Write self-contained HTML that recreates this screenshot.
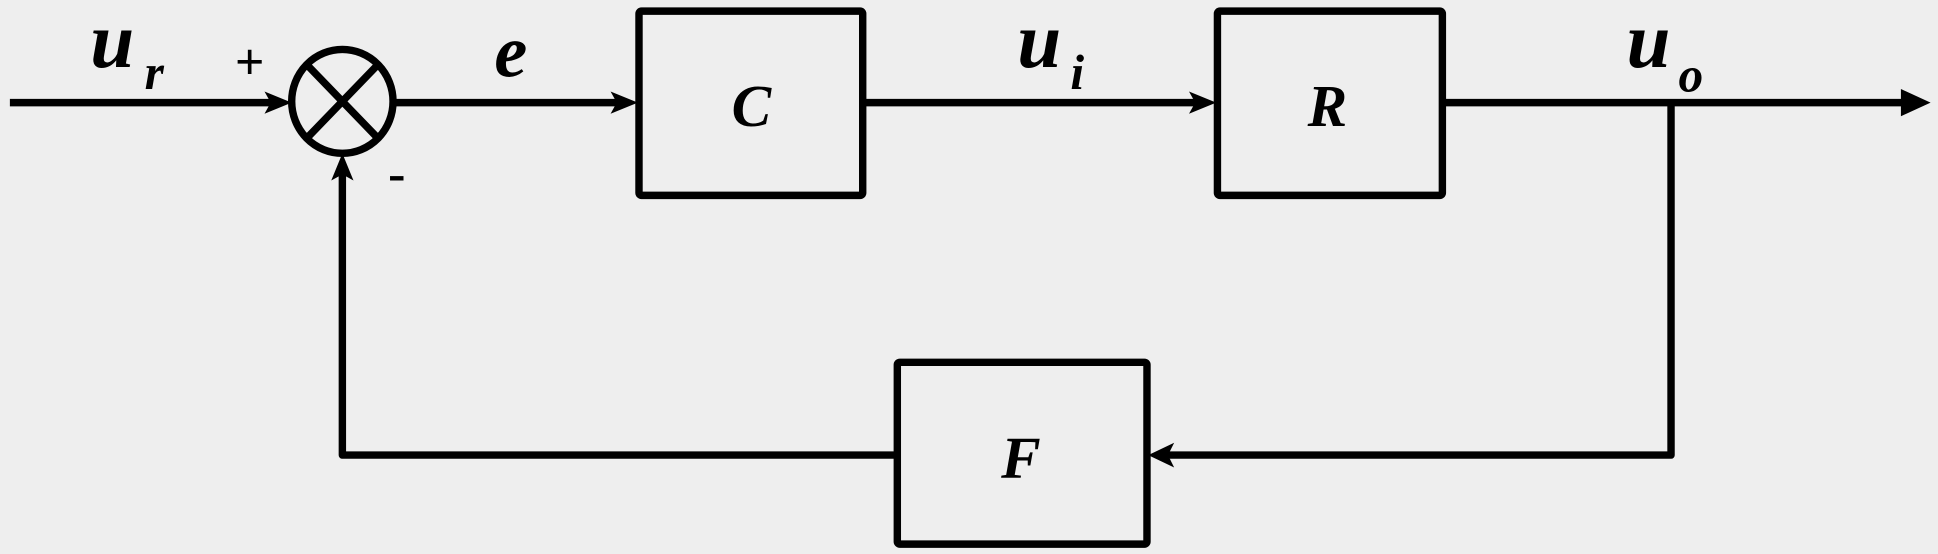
<!DOCTYPE html>
<html><head><meta charset="utf-8"><style>
html,body{margin:0;padding:0;background:#eeeeee;}
svg{display:block}
text{font-family:"Liberation Serif","DejaVu Serif",serif;font-weight:bold;font-style:italic;fill:#000}
</style></head><body>
<svg width="1938" height="554" viewBox="0 0 1568 448" preserveAspectRatio="none">
<rect x="0" y="0" width="1568" height="448" fill="#eeeeee"/>
<g stroke="#000" stroke-width="6" fill="none" stroke-linejoin="round">
<line x1="8" y1="83" x2="222" y2="83"/>
<ellipse cx="277" cy="82" rx="41" ry="42"/>
<line x1="248" y1="52" x2="306" y2="112"/>
<line x1="306" y1="52" x2="248" y2="112"/>
<line x1="318" y1="83" x2="502" y2="83"/>
<rect x="517" y="9" width="181" height="149" rx="2"/>
<line x1="698" y1="83" x2="970" y2="83"/>
<rect x="985" y="9" width="182" height="149" rx="2"/>
<line x1="1167" y1="83" x2="1545" y2="83"/>
<polyline points="1352,83 1352,368 944,368"/>
<rect x="726" y="293" width="202" height="147" rx="2"/>
<polyline points="726,368 277,368 277,138"/>
</g>
<g fill="#000">
<polygon points="236,83 214,74 219,83 214,92"/>
<polygon points="516,83 494,74 499,83 494,92"/>
<polygon points="984,83 962,74 967,83 962,92"/>
<polygon points="1562,83 1538,72 1538,94"/>
<polygon points="929,368 950,358 945,368 950,378"/>
<polygon points="277,124 268,146 277,141 286,146"/>
</g>
<text x="73" y="54" font-size="64">u</text>
<text x="117" y="72" font-size="40">r</text>
<text x="190" y="64" font-size="42" style="font-style:normal">+</text>
<text x="314" y="154" font-size="42" style="font-style:normal">-</text>
<text x="400" y="62" font-size="60">e</text>
<text x="592" y="102" font-size="48">C</text>
<text x="823" y="54" font-size="64">u</text>
<text x="866" y="72" font-size="40">i</text>
<text x="1058" y="102" font-size="48">R</text>
<text x="1316" y="54" font-size="64">u</text>
<text x="1358" y="74" font-size="40">o</text>
<text x="810" y="386" font-size="48">F</text>
</svg>
</body></html>
